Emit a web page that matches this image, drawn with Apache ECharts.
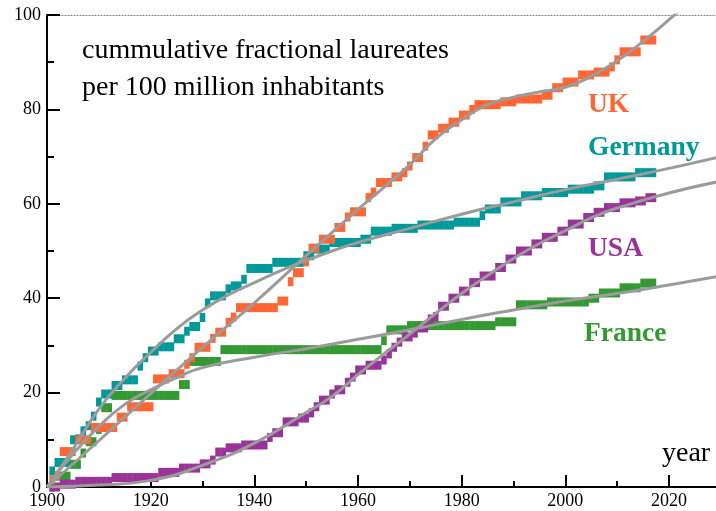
<!DOCTYPE html>
<html>
<head>
<meta charset="utf-8">
<script src="https://cdn.jsdelivr.net/npm/echarts@6/dist/echarts.min.js"></script>
<style>html,body{margin:0;padding:0;background:#fff}#c{width:716px;height:511px}</style>
</head>
<body>
<div id="c"></div>
<script>
// ---- data ----
const firstYear = 1901;
const ukValues = [
  1.5, 2.5, 7.5, 7.5, 7.5, 10, 10, 10, 12.6, 12.6,
  12.6, 12.6, 12.6, 14.8, 14.8, 17, 17, 17, 17, 17,
  22.9, 22.9, 22.9, 24, 24, 24, 26, 27.4, 29.6, 29.6,
  29.6, 31.5, 32.8, 32.8, 34.9, 36, 38, 38, 38, 38,
  38, 38, 38, 38, 39.4, 39.4, 43.5, 45.4, 45.4, 47.7,
  50.6, 50.6, 52.5, 52.5, 52.5, 55, 55, 57.2, 58.3, 58.3,
  58.3, 61.3, 62.5, 64.5, 64.5, 64.5, 65.7, 65.7, 66.6, 68,
  69.8, 69.8, 72.2, 74.6, 74.6, 76, 76, 77.3, 77.3, 78.8,
  78.8, 80, 81, 81, 81, 81, 81, 81.6, 81.6, 81.6,
  82.2, 82.2, 82.2, 82.2, 82.2, 83, 83, 84.6, 84.6, 85.8,
  85.8, 85.8, 87.3, 87.3, 87.3, 87.9, 87.9, 87.9, 89, 90.5,
  92.2, 92.2, 92.2, 92.2, 94.7, 94.7, 94.7
];
const germanyValues = [
  3.4, 5.2, 5.2, 5.2, 10, 10.2, 11.9, 13, 15, 18,
  19.7, 19.7, 21.5, 21.5, 22.7, 22.7, 22.7, 25.6, 27.4, 28.8,
  28.8, 29.7, 29.7, 29.7, 31.4, 31.4, 33, 34, 34, 35.9,
  39, 40.5, 40.5, 40.5, 42, 42.6, 42.6, 44, 46.3, 46.3,
  46.3, 46.3, 46.3, 47.6, 47.6, 47.6, 47.6, 47.6, 47.6, 49,
  49, 50.4, 50.4, 50.4, 51.8, 51.8, 51.8, 51.8, 51.8, 51.8,
  52.5, 52.5, 54.2, 54.2, 54.2, 54.2, 54.8, 54.8, 54.8, 54.8,
  54.8, 55.5, 55.5, 55.5, 55.5, 55.5, 55.5, 55.5, 56.1, 56.1,
  56.1, 56.1, 56.1, 57.5, 58.9, 58.9, 58.9, 60.4, 60.4, 60.4,
  60.4, 61.7, 61.7, 61.7, 61.7, 62.4, 62.4, 62.4, 62.4, 62.4,
  63.1, 63.1, 63.1, 63.1, 63.1, 63.8, 63.8, 65.7, 65.7, 65.7,
  65.7, 65.7, 65.7, 66.6, 66.6, 66.6, 66.6
];
const usaValues = [
  0, 0, 0.6, 0.6, 0.6, 1.2, 1.2, 1.2, 1.2, 1.2,
  1.2, 1.2, 2, 2, 2, 2, 2, 2, 2, 2,
  2, 3.1, 3.1, 3.1, 3.1, 4, 4, 4, 4, 4.9,
  4.9, 5.7, 7.4, 7.4, 8.3, 8.3, 8.3, 8.9, 8.9, 8.9,
  8.9, 8.9, 10.5, 11.5, 11.5, 13.8, 13.8, 13.8, 14.6, 14.6,
  15.7, 17, 18.4, 18.4, 19.7, 20.6, 20.6, 22.2, 23.3, 24.8,
  24.8, 25.8, 25.8, 25.8, 26.9, 28.2, 29.6, 30.7, 31.8, 31.8,
  32.6, 33.7, 33.7, 35.6, 36.1, 38.3, 38.3, 40, 40, 41.5,
  41.5, 43.3, 43.3, 44.7, 44.7, 44.7, 46.5, 46.5, 48.3, 48.3,
  50, 50, 50, 51.5, 51.5, 52.9, 52.9, 52.9, 54.2, 54.2,
  55.7, 55.7, 55.7, 57.1, 57.1, 58.2, 58.2, 59.2, 59.2, 59.2,
  60.2, 60.2, 60.2, 60.6, 60.6, 61.3, 61.3
];
const franceValues = [
  0, 2.3, 2.3, 2.3, 4.8, 4.8, 7.2, 9.6, 9.6, 12.2,
  16.8, 16.8, 19.4, 19.4, 19.4, 19.4, 19.4, 19.4, 19.4, 19.4,
  19.4, 19.4, 19.4, 19.4, 19.4, 21.7, 21.7, 26.6, 26.6, 26.6,
  26.6, 26.6, 26.6, 29.1, 29.1, 29.1, 29.1, 29.1, 29.1, 29.1,
  29.1, 29.1, 29.1, 29.1, 29.1, 29.1, 29.1, 29.1, 29.1, 29.1,
  29.1, 29.1, 29.1, 29.1, 29.1, 29.1, 29.1, 29.1, 29.1, 29.1,
  29.1, 29.1, 29.1, 29.1, 31, 33.3, 33.3, 33.3, 33.3, 34.2,
  34.2, 34.2, 34.2, 34.2, 34.2, 34.2, 34.2, 34.2, 34.2, 34.2,
  34.2, 34.2, 34.2, 34.2, 34.2, 34.2, 35, 35, 35, 35,
  38.6, 38.6, 38.6, 38.6, 38.6, 38.6, 39.2, 39.2, 39.2, 39.2,
  39.2, 39.2, 39.2, 39.2, 40, 40, 41.1, 41.1, 41.1, 41.1,
  42.2, 42.2, 42.2, 42.2, 43.2, 43.2, 43.2
];

// smooth fit curves
const ukFitYears = [1900,1910,1920,1930,1940,1950,1960,1965,1970,1975,1980,1985,1990,1995,2000,2005,2010,2015,2020,2025];
const ukFitValues = [0,9.8,19.8,29.6,39,49,58.8,63.5,68.3,73.8,77.8,81,82.6,83.7,84.7,87,90.3,94.4,99,104];
const germanyFitYears = [1900,1905,1910,1915,1920,1925,1930,1935,1940,1945,1950,1955,1960,1970,1980,1990,2000,2010,2020,2030];
const germanyFitValues = [0,8,16.5,23,28.5,33.5,37.5,40.7,43.3,45.8,48,50,51.8,54.8,57.8,60.4,63,65.2,67.5,70];
const usaFitYears = [1900,1910,1920,1930,1940,1950,1955,1960,1965,1970,1975,1980,1985,1990,1995,2000,2005,2010,2020,2030];
const usaFitValues = [0,0.4,1.4,4.6,9.3,15.8,19.2,23.8,28.2,32.4,36.8,41,44.8,48.4,51.6,54.3,57,59.1,62.3,64.8];
const franceFitYears = [1900,1905,1910,1915,1920,1925,1930,1940,1950,1960,1970,1980,1990,2000,2010,2020,2030];
const franceFitValues = [0,7,12.8,17.5,20.6,23.2,25.3,27.5,29.3,31.3,33.3,35.5,37.5,39.4,41,42.8,44.7];

const xTicks = [1900, 1920, 1940, 1960, 1980, 2000, 2020];
const yTicks = [0, 20, 40, 60, 80, 100];

const colors = { uk: '#ff6633', germany: '#009999', usa: '#993399', france: '#339933' };
const serif = '"Liberation Serif", "DejaVu Serif", serif';

function steps(values) {
  return values.map((v, i) => [firstYear + i, v]);
}
function pairs(xs, ys) {
  return xs.map((x, i) => [x, ys[i]]);
}
function blocks(name, values, color) {
  return {
    name, type: 'scatter', data: steps(values), symbol: 'rect',
    symbolSize: [5.6, 9], itemStyle: { color, opacity: 1 },
    silent: true, animation: false, z: 2
  };
}
function fit(name, xs, ys) {
  return {
    name, type: 'line', data: pairs(xs, ys), smooth: true, showSymbol: false,
    lineStyle: { color: '#9b9b9b', width: 3 }, silent: true, animation: false, z: 5
  };
}

// 1 year = 622/120 px; axis runs 1900..2040 so the visible part ends near 2029
const pxPerYear = 622 / 120;

const chart = echarts.init(document.getElementById('c'), null, { renderer: 'canvas' });
chart.setOption({
  animation: false,
  backgroundColor: '#fff',
  grid: { left: 47, width: pxPerYear * 140, top: 15, height: 472, containLabel: false, outerBoundsMode: 'none' },
  xAxis: [{
    type: 'value', min: 1900, max: 2040, interval: 20,
    axisLine: { show: true, lineStyle: { color: '#000', width: 2 } },
    axisTick: { show: true, inside: true, length: 12, lineStyle: { color: '#000', width: 2 } },
    minorTick: { show: true, splitNumber: 2, length: 6, lineStyle: { color: '#000', width: 2 } },
    splitLine: { show: false },
    axisLabel: {
      fontFamily: serif, fontSize: 18, color: '#000', margin: 5,
      formatter: v => (xTicks.indexOf(v) >= 0 ? String(v) : '')
    }
  }, {
    type: 'value', min: 1900, max: 2040, position: 'top',
    axisLine: { show: true, lineStyle: { color: '#777', width: 1, type: [1, 2] } },
    axisTick: { show: false }, axisLabel: { show: false }, splitLine: { show: false }
  }],
  yAxis: {
    type: 'value', min: 0, max: 100, interval: 20,
    axisLine: { show: true, lineStyle: { color: '#000', width: 2 } },
    axisTick: { show: true, inside: true, length: 13, lineStyle: { color: '#000', width: 2 } },
    minorTick: { show: true, splitNumber: 2, length: 7, lineStyle: { color: '#000', width: 2 } },
    splitLine: { show: false },
    axisLabel: {
      fontFamily: serif, fontSize: 18, color: '#000', margin: 6,
      formatter: v => (yTicks.indexOf(v) >= 0 ? String(v) : '')
    }
  },
  series: [
    blocks('France', franceValues, colors.france),
    blocks('USA', usaValues, colors.usa),
    blocks('Germany', germanyValues, colors.germany),
    blocks('UK', ukValues, colors.uk),
    fit('UK fit', ukFitYears, ukFitValues),
    fit('Germany fit', germanyFitYears, germanyFitValues),
    fit('USA fit', usaFitYears, usaFitValues),
    fit('France fit', franceFitYears, franceFitValues)
  ],
  graphic: [
    { type: 'text', left: 82, top: 37, style: { text: 'cummulative fractional laureates', font: '28px ' + serif, fill: '#000' } },
    { type: 'text', left: 82, top: 74, style: { text: 'per 100 million inhabitants', font: '28px ' + serif, fill: '#000' } },
    { type: 'text', left: 588, top: 91, style: { text: 'UK', font: 'bold 27.5px ' + serif, fill: colors.uk } },
    { type: 'text', left: 588, top: 134, style: { text: 'Germany', font: 'bold 27.5px ' + serif, fill: colors.germany } },
    { type: 'text', left: 588, top: 235, style: { text: 'USA', font: 'bold 27.5px ' + serif, fill: colors.usa } },
    { type: 'text', left: 584, top: 320, style: { text: 'France', font: 'bold 27.5px ' + serif, fill: colors.france } },
    { type: 'text', left: 662, top: 440, style: { text: 'year', font: '28px ' + serif, fill: '#000' } }
  ]
});
</script>
</body>
</html>
